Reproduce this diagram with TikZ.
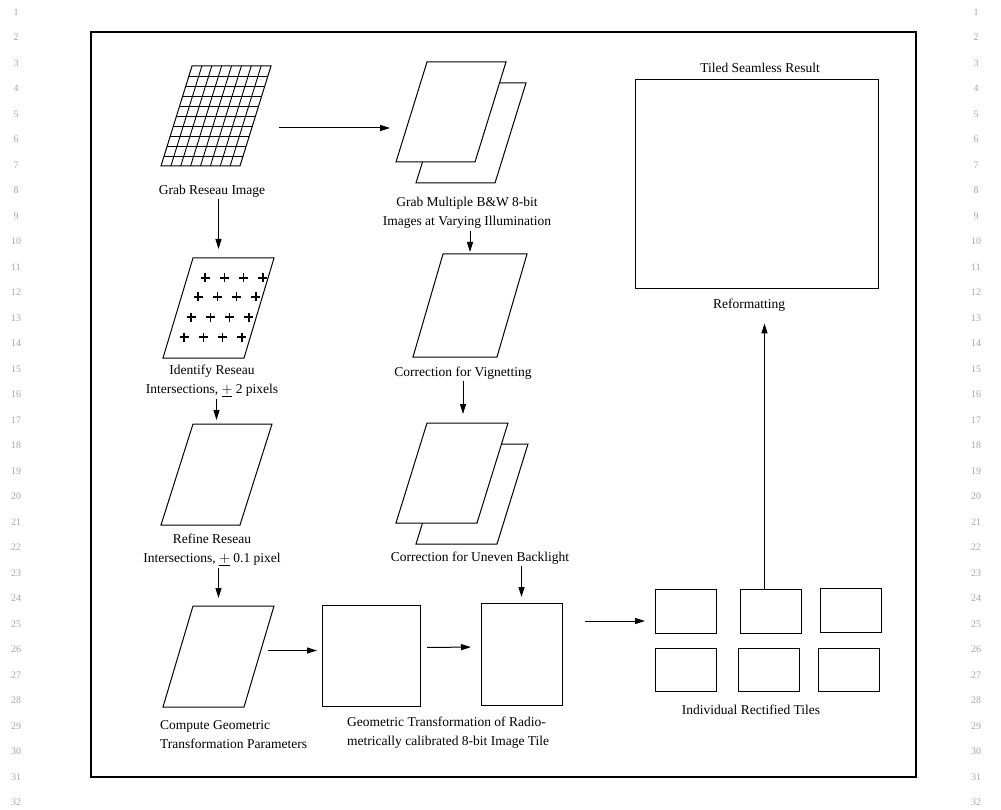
\documentclass[tikz,border=0pt]{standalone}
\usepackage{fontspec}
\setmainfont{Liberation Serif}
\usetikzlibrary{calc,arrows.meta}
\newcommand{\drawpara}[3]{%
  \draw[#3] ([xshift=#2pt]#1.north west) -- (#1.north east) -- ([xshift=-#2pt]#1.south east) -- (#1.south west) -- cycle;}
\tikzset{
  frame/.style={line width=1.3pt},
  shp/.style={draw, line width=1pt, fill=white},
  gridline/.style={line width=0.9pt},
  plusline/.style={line width=1.5pt},
  abox/.style={inner sep=0pt, outer sep=0pt, draw=none},
  sqbox/.style={draw, line width=1pt, inner sep=0pt, outer sep=0pt},
  lbl/.style={font=\fontsize{13.5}{19}\selectfont, inner sep=2pt, align=center},
  arr/.style={line width=1pt, -{Triangle[length=10pt,width=6pt]}},
  lnum/.style={text=black!35, font=\fontsize{10}{10}\selectfont, inner sep=0pt}
}
\begin{document}
\begin{tikzpicture}[x=1pt,y=-1pt]
\useasboundingbox (0,0) rectangle (1001,810);
% margin line numbers
\foreach \n in {1,...,32} {
  \node[lnum] (ln\n) at (16,{12+(\n-1)*25.5}) {\n};
  \node[lnum] (rn\n) at (976,{12+(\n-1)*25.5}) {\n};
}
% outer frame
\node[abox, draw, line width=1.3pt, minimum width=825, minimum height=745] (frame) at (503.5,404.5) {};

% left column
\node[abox, minimum width=110, minimum height=100] (grab) at (216,116) {};
\drawpara{grab}{31}{shp}
\foreach \i in {1,...,7}
  \draw[gridline] ($(grab.north west)+({31+\i*79/8},0)$) -- ($(grab.south west)+({\i*79/8},0)$);
\foreach \j in {1,...,9}
  \draw[gridline] ($(grab.north west)+({31-\j*3.1},{\j*10})$) -- ($(grab.north east)+({-\j*3.1},{\j*10})$);
\node[lbl] (lgrab) at (212,191) {Grab Reseau Image};

\node[abox, minimum width=111, minimum height=100] (ident) at (218.5,308) {};
\drawpara{ident}{30}{shp}
\foreach \y/\x in {278/205, 297/198, 317/191, 337/184}
  \foreach \k in {0,1,2,3}
    \draw[plusline] ({\x+\k*19.3-4.5},\y) -- ({\x+\k*19.3+4.5},\y) ({\x+\k*19.3},\y-4.5) -- ({\x+\k*19.3},\y+4.5);
\node[lbl] (lident) at (212,381) {Identify Reseau\\Intersections, $\underline{+}$ 2 pixels};

\node[abox, minimum width=111, minimum height=101] (refine) at (216.5,474.5) {};
\drawpara{refine}{32}{shp}
\node[lbl] (lrefine) at (212,550) {Refine Reseau\\Intersections, $\underline{+}$ 0.1 pixel};

\node[abox, minimum width=111, minimum height=101] (compute) at (218.5,656.5) {};
\drawpara{compute}{30}{shp}
\node[lbl, align=left, anchor=west] (lcompute) at (158,735) {Compute Geometric\\Transformation Parameters};

% middle column
\node[abox, minimum width=110, minimum height=100] (multib) at (471,133) {};
\drawpara{multib}{31}{shp}
\node[abox, minimum width=110, minimum height=100] (multi) at (451,112) {};
\drawpara{multi}{31}{shp}
\node[lbl] (lmulti) at (467,213) {Grab Multiple B\&W 8-bit\\Images at Varying Illumination};

\node[abox, minimum width=114, minimum height=103] (vign) at (470,305.5) {};
\drawpara{vign}{30}{shp}
\node[lbl] (lvign) at (463,373) {Correction for Vignetting};

\node[abox, minimum width=112, minimum height=100] (unevb) at (472,494) {};
\drawpara{unevb}{31}{shp}
\node[abox, minimum width=112, minimum height=100] (uneven) at (452,473) {};
\drawpara{uneven}{31}{shp}
\node[lbl] (luneven) at (480,558) {Correction for Uneven Backlight};

\node[sqbox, minimum width=98, minimum height=101] (sq1) at (371,655.5) {};
\node[sqbox, minimum width=81, minimum height=102] (sq2) at (521.5,654) {};
\node[lbl, align=left, anchor=west] (lgeo) at (345,733) {Geometric Transformation of Radio-\\metrically calibrated 8-bit Image Tile};

% right column
\node[sqbox, minimum width=243, minimum height=209] (result) at (756.5,184.5) {};
\node[lbl] (lresult) at (760,68) {Tiled Seamless Result};
\node[lbl] (lreform) at (749,305) {Reformatting};

\node[sqbox, minimum width=61, minimum height=44] (t1) at (685.5,611) {};
\node[sqbox, minimum width=61, minimum height=44] (t2) at (770.5,611) {};
\node[sqbox, minimum width=61, minimum height=44] (t3) at (850.5,610) {};
\node[sqbox, minimum width=61, minimum height=43] (t4) at (685.5,669.5) {};
\node[sqbox, minimum width=61, minimum height=43] (t5) at (768.5,669.5) {};
\node[sqbox, minimum width=61, minimum height=43] (t6) at (848.5,669.5) {};
\node[lbl] (ltiles) at (751,710) {Individual Rectified Tiles};

% connectors
\draw[arr] ([xshift=8pt,yshift=-12pt]grab.east) -- ([xshift=-6pt,yshift=-16pt]multi.west);
\draw[arr, shorten >=9pt] (lgrab.south -| ident.north) -- (ident.north);
\draw[arr, shorten >=4pt] (lident.south -| refine.north) -- (refine.north);
\draw[arr, shorten >=8pt] (lrefine.south -| compute.north) -- (compute.north);
\draw[arr, shorten <=-6pt, shorten >=5pt] ([yshift=6pt]compute.east) -- ([yshift=5pt]sq1.west);
\draw[arr, shorten <=7pt, shorten >=10pt] ([yshift=8pt]sq1.east) -- ([yshift=7pt]sq2.west);
\draw[arr, shorten >=2pt] (lmulti.south -| vign.north) -- (vign.north);
\draw[arr, shorten >=9pt] (lvign.south) -- (lvign.south |- uneven.north);
\draw[arr, shorten >=6pt] (luneven.south -| sq2.north) -- (sq2.north);
\draw[arr, shorten <=23pt, shorten >=10pt] ([yshift=33pt]sq2.east) -- ([yshift=-10pt]t1.west);
\draw[arr, shorten >=10pt] ([xshift=-6pt]t2.north) -- ([xshift=15.5pt]lreform.south);
\end{tikzpicture}
\end{document}
